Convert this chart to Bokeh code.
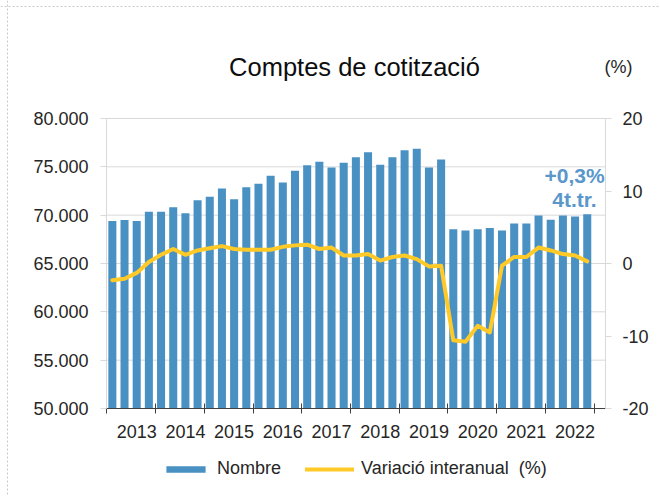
from bokeh.plotting import figure
from bokeh.models import Range1d, LinearAxis, FixedTicker, Legend, LegendItem, Label, Span
from bokeh.embed import file_html
from bokeh.resources import INLINE

FONT = "Liberation Sans"

# Quarterly data, 2013 T1 .. 2022 T4
years = ["2013", "2014", "2015", "2016", "2017", "2018", "2019", "2020", "2021", "2022"]
nombre = [69400, 69500, 69400, 70350, 70350, 70830, 70200, 71550, 71900, 72760,
          71650, 72900, 73240, 74070, 73380, 74590, 75170, 75520, 74930, 75410,
          76000, 76520, 75210, 76000, 76720, 76860, 74930, 75760, 68550, 68410,
          68550, 68660, 68410, 69140, 69140, 69970, 69520, 69970, 69860, 70100]
variacio = [-2.3, -2.1, -1.3, 0.2, 1.2, 2.0, 1.2, 1.8, 2.1, 2.4,
            2.0, 1.9, 1.9, 1.9, 2.3, 2.5, 2.6, 2.0, 2.2, 1.1,
            1.1, 1.3, 0.4, 0.9, 1.1, 0.6, -0.4, -0.3, -10.6, -10.8,
            -8.6, -9.5, -0.3, 0.9, 0.9, 2.2, 1.8, 1.3, 1.1, 0.3]
left_ticks = [50000, 55000, 60000, 65000, 70000, 75000, 80000]
left_labels = ["50.000", "55.000", "60.000", "65.000", "70.000", "75.000", "80.000"]
right_ticks = [-20, -10, 0, 10, 20]
right_labels = ["-20", "-10", "0", "10", "20"]

idx = list(range(len(nombre)))
year_pos = [4 * i + 2 for i in range(len(years))]
year_bounds = [4 * i - 0.44 for i in range(len(years) + 1)]

X0, X1 = -0.48, 40.5          # plot-area extent in category units

BAR = "#4A91C3"
LINE = "#FFC928"
GRID = "#D9D9D9"
TXT = "#262626"
NOTE = "#5A97CB"

# The frame fills the whole canvas; the axes are pinned to the plot area.
p = figure(width=660, height=496, output_backend="svg", toolbar_location=None,
           x_range=Range1d(-9.185, 45.016), y_range=Range1d(40896.6, 92206.9),
           min_border_left=0, min_border_right=0, min_border_top=0,
           min_border_bottom=0)
p.extra_y_ranges = {"pct": Range1d(-32.138, 36.276)}
p.outline_line_color = None
p.xgrid.visible = False
p.ygrid.visible = False
p.background_fill_color = "white"
p.border_fill_color = "white"

# chart-area border (dotted, left and top edges)
p.add_layout(Span(location=-8.61, dimension="height", line_color="#C8C8C8",
                  line_width=1, line_dash="2 2"))
p.add_layout(Span(location=91586.2, dimension="width", line_color="#C8C8C8",
                  line_width=1, line_dash="2 2"))

# horizontal gridlines limited to the plot area
p.segment(x0=X0, x1=X1, y0=left_ticks, y1=left_ticks, line_color=GRID,
          line_width=1, level="underlay")

# left axis
ya = p.yaxis[0]
ya.fixed_location = X0
ya.bounds = (50000, 80000)
ya.ticker = FixedTicker(ticks=left_ticks)
ya.major_label_overrides = {t: l for t, l in zip(left_ticks, left_labels)}
ya.axis_line_color = GRID
ya.major_tick_line_color = GRID
ya.major_tick_in = 0
ya.major_tick_out = 6
ya.minor_tick_line_color = None
ya.major_label_standoff = 12
ya.major_label_text_font = FONT
ya.major_label_text_font_size = "18px"
ya.major_label_text_color = TXT

# bottom axis, pinned at the 50.000 baseline
xa = p.xaxis[0]
xa.fixed_location = 50000
xa.bounds = (X0, X1)
xa.ticker = FixedTicker(ticks=year_pos, minor_ticks=year_bounds)
xa.major_label_overrides = {t: y for t, y in zip(year_pos, years)}
xa.axis_line_color = "#404040"
xa.major_tick_line_color = None
xa.major_tick_in = 0
xa.major_tick_out = 0
xa.minor_tick_line_color = "#404040"
xa.minor_tick_in = 5
xa.minor_tick_out = 5
xa.major_label_standoff = 11
xa.major_label_text_font = FONT
xa.major_label_text_font_size = "18px"
xa.major_label_text_color = TXT

# right axis, pinned at the right edge of the plot area
ra = LinearAxis(y_range_name="pct", ticker=FixedTicker(ticks=right_ticks),
                bounds=(-20, 20), fixed_location=X1)
ra.major_label_overrides = {t: l for t, l in zip(right_ticks, right_labels)}
ra.axis_line_color = GRID
ra.major_tick_line_color = GRID
ra.major_tick_in = 0
ra.major_tick_out = 6
ra.minor_tick_line_color = None
ra.major_label_standoff = 11
ra.major_label_text_font = FONT
ra.major_label_text_font_size = "18px"
ra.major_label_text_color = TXT
p.add_layout(ra, "right")

bars = p.vbar(x=idx, top=nombre, bottom=50000, width=0.66,
              fill_color=BAR, line_color=None)
line = p.line(x=idx, y=variacio, y_range_name="pct", line_color=LINE,
              line_width=4, line_join="round", line_cap="round")

legend = Legend(items=[LegendItem(label="Nombre", renderers=[bars]),
                       LegendItem(label="Variació interanual  (%)", renderers=[line])],
                orientation="horizontal", location=(161, 17),
                glyph_width=49, glyph_height=8, label_standoff=7, spacing=24,
                border_line_color=None, background_fill_alpha=0,
                label_text_font=FONT, label_text_font_size="18px",
                label_text_color=TXT, padding=0, margin=0)
p.add_layout(legend, "center")

p.add_layout(Label(x=354, y=430, x_units="screen", y_units="screen",
                   text="Comptes de cotització", text_align="center",
                   text_baseline="alphabetic", text_font=FONT,
                   text_font_size="25.5px", text_color="#0D0D0D"))
p.add_layout(Label(x=604, y=430, x_units="screen", y_units="screen",
                   text="(%)", text_align="left", text_baseline="alphabetic",
                   text_font=FONT, text_font_size="18px", text_color=TXT))
p.add_layout(Label(x=574, y=321, x_units="screen", y_units="screen",
                   text="+0,3%", text_align="center", text_baseline="alphabetic",
                   text_font=FONT, text_font_size="21px", text_font_style="bold",
                   text_color=NOTE))
p.add_layout(Label(x=574, y=297, x_units="screen", y_units="screen",
                   text="4t.tr.", text_align="center", text_baseline="alphabetic",
                   text_font=FONT, text_font_size="21px", text_font_style="bold",
                   text_color=NOTE))

open("out.html", "w").write(file_html(p, INLINE))
